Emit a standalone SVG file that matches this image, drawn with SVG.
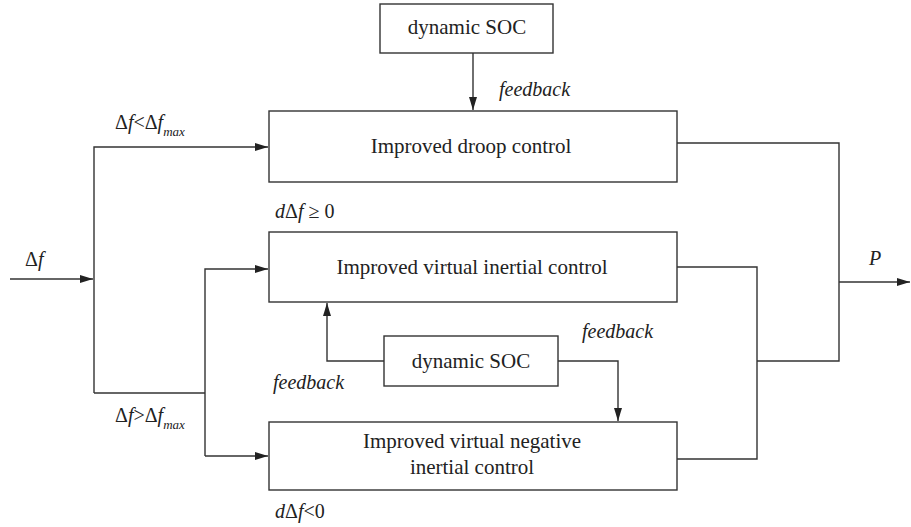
<svg xmlns="http://www.w3.org/2000/svg" width="911" height="527" viewBox="0 0 911 527">
<style>
.box{fill:#fff;stroke:#333;stroke-width:1.4}
.ln{fill:none;stroke:#333;stroke-width:1.4}
.t{font-family:"Liberation Serif","DejaVu Serif","Times New Roman",serif;font-size:21px;fill:#222;text-anchor:middle}
.lb{font-family:"Liberation Serif","DejaVu Serif","Times New Roman",serif;font-size:20px;font-style:italic;fill:#222}
.lbn{font-style:normal}
.sub{font-size:13px}
</style>
<defs>
<marker id="ah" markerWidth="14" markerHeight="8" refX="13" refY="4" orient="auto" markerUnits="userSpaceOnUse">
<path d="M0,0 L13,4 L0,8 z" fill="#222"/>
</marker>
</defs>
<g id="connectors">
<path class="ln" d="M10,279 H93" marker-end="url(#ah)"/>
<path class="ln" d="M94,393 V147 H268" marker-end="url(#ah)"/>
<path class="ln" d="M94,393 H205"/>
<path class="ln" d="M205,456 V269 H268" marker-end="url(#ah)"/>
<path class="ln" d="M205,456 H268" marker-end="url(#ah)"/>
<path class="ln" d="M473,53 V110" marker-end="url(#ah)"/>
<path class="ln" d="M384,361 H327 V303" marker-end="url(#ah)"/>
<path class="ln" d="M558,361 H618 V421" marker-end="url(#ah)"/>
<path class="ln" d="M677,143 H839 V361 H757"/>
<path class="ln" d="M677,267 H757 V459 H677"/>
<path class="ln" d="M839,282 H910" marker-end="url(#ah)"/>
</g>
<g id="soc-top">
<rect class="box" x="380" y="4" width="173" height="49"/>
<text class="t" x="467" y="34">dynamic SOC</text>
</g>
<g id="droop">
<rect class="box" x="269" y="111" width="408" height="71"/>
<text class="t" x="471" y="153">Improved droop control</text>
</g>
<g id="inertial">
<rect class="box" x="269" y="232" width="408" height="70"/>
<text class="t" x="472" y="274">Improved virtual inertial control</text>
</g>
<g id="soc-mid">
<rect class="box" x="384" y="336" width="174" height="50"/>
<text class="t" x="471" y="368">dynamic SOC</text>
</g>
<g id="negative">
<rect class="box" x="269" y="422" width="408" height="68"/>
<text class="t" x="472" y="448">Improved virtual negative</text>
<text class="t" x="472" y="474">inertial control</text>
</g>
<g id="labels">
<text class="lb" x="499" y="96">feedback</text>
<text class="lb" x="582" y="338">feedback</text>
<text class="lb" x="273" y="389">feedback</text>
<text class="lb" x="25" y="266"><tspan class="lbn">Δ</tspan>f</text>
<text class="lb" x="869" y="265">P</text>
<text class="lb" x="115" y="129"><tspan class="lbn">Δ</tspan>f<tspan class="lbn">&lt;Δ</tspan>f<tspan class="sub" dy="7">max</tspan></text>
<text class="lb" x="115" y="422"><tspan class="lbn">Δ</tspan>f<tspan class="lbn">&gt;Δ</tspan>f<tspan class="sub" dy="7">max</tspan></text>
<text class="lb" x="275" y="218">d<tspan class="lbn">Δ</tspan>f<tspan class="lbn"> ≥ 0</tspan></text>
<text class="lb" x="275" y="518">d<tspan class="lbn">Δ</tspan>f<tspan class="lbn">&lt;0</tspan></text>
</g>
</svg>
